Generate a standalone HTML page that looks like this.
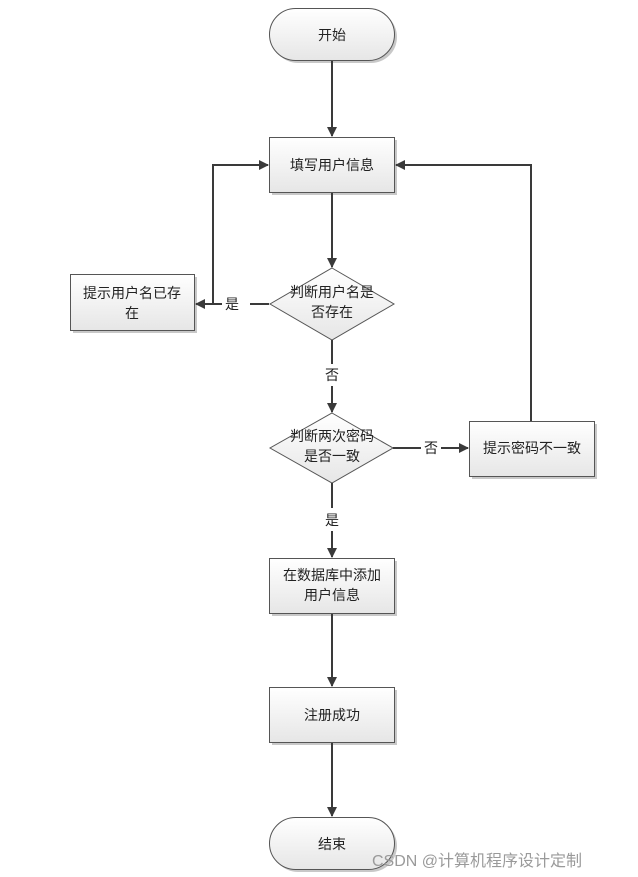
<!DOCTYPE html>
<html><head><meta charset="utf-8"><style>
html,body{margin:0;padding:0;background:#fff;}
svg{display:block;}
text{font-family:"Liberation Sans","Noto Sans CJK SC",sans-serif;font-size:14px;fill:#222;}
</style></head><body>
<svg width="638" height="877" viewBox="0 0 638 877" xmlns="http://www.w3.org/2000/svg">
<defs>
<linearGradient id="g" x1="0" y1="0" x2="0" y2="1">
<stop offset="0" stop-color="#ffffff"/><stop offset="1" stop-color="#e6e6e6"/>
</linearGradient>
<marker id="a" markerWidth="10" markerHeight="10" refX="9" refY="5" orient="auto" markerUnits="userSpaceOnUse">
<path d="M0,0 L10,5 L0,10 z" fill="#3a3a3a"/>
</marker>
</defs>
<g fill="#c8c8c8">
<rect x="272" y="11" width="125" height="52" rx="26"/>
<rect x="272" y="140" width="125" height="55"/>
<rect x="73" y="277" width="124" height="56"/>
<rect x="472" y="424" width="125" height="55"/>
<rect x="272" y="561" width="125" height="55"/>
<rect x="272" y="690" width="125" height="55"/>
<rect x="272" y="820" width="125" height="52" rx="26"/>
</g>
<g fill="url(#g)" stroke="#555" stroke-width="1">
<rect x="269.5" y="8.5" width="125" height="52" rx="26"/>
<rect x="269.5" y="137.5" width="125" height="55"/>
<rect x="70.5" y="274.5" width="124" height="56"/>
<rect x="469.5" y="421.5" width="125" height="55"/>
<rect x="269.5" y="558.5" width="125" height="55"/>
<rect x="269.5" y="687.5" width="125" height="55"/>
<rect x="269.5" y="817.5" width="125" height="52" rx="26"/>
<polygon points="332,268 394,304 332,340 270,304"/>
<polygon points="332,413 393,448 332,483 270,448"/>
</g>
<g stroke="#3a3a3a" stroke-width="2" fill="none">
<line x1="332" y1="61" x2="332" y2="136" marker-end="url(#a)"/>
<line x1="332" y1="193" x2="332" y2="267" marker-end="url(#a)"/>
<line x1="269" y1="304" x2="250" y2="304"/>
<line x1="222" y1="304" x2="196" y2="304" marker-end="url(#a)"/>
<polyline points="213,304 213,165 268,165" marker-end="url(#a)"/>
<line x1="332" y1="340" x2="332" y2="364"/>
<line x1="332" y1="386" x2="332" y2="412" marker-end="url(#a)"/>
<line x1="393" y1="448" x2="421" y2="448"/>
<line x1="441" y1="448" x2="468" y2="448" marker-end="url(#a)"/>
<polyline points="531,421 531,165 396,165" marker-end="url(#a)"/>
<line x1="332" y1="483" x2="332" y2="508"/>
<line x1="332" y1="531" x2="332" y2="557" marker-end="url(#a)"/>
<line x1="332" y1="614" x2="332" y2="686" marker-end="url(#a)"/>
<line x1="332" y1="743" x2="332" y2="816" marker-end="url(#a)"/>
</g>
<g text-anchor="middle">
<text x="332" y="40">开始</text>
<text x="332" y="170">填写用户信息</text>
<text x="132" y="298">提示用户名已存</text>
<text x="132" y="318">在</text>
<text x="232" y="309">是</text>
<text x="332" y="297">判断用户名是</text>
<text x="332" y="317">否存在</text>
<text x="332" y="380">否</text>
<text x="332" y="441">判断两次密码</text>
<text x="332" y="461">是否一致</text>
<text x="431" y="453">否</text>
<text x="532" y="453">提示密码不一致</text>
<text x="332" y="525">是</text>
<text x="332" y="580">在数据库中添加</text>
<text x="332" y="600">用户信息</text>
<text x="332" y="720">注册成功</text>
<text x="332" y="849">结束</text>
</g>
<text x="372" y="866" style="font-size:16px;fill:#9a9a9a;">CSDN @计算机程序设计定制</text>
</svg>
</body></html>
